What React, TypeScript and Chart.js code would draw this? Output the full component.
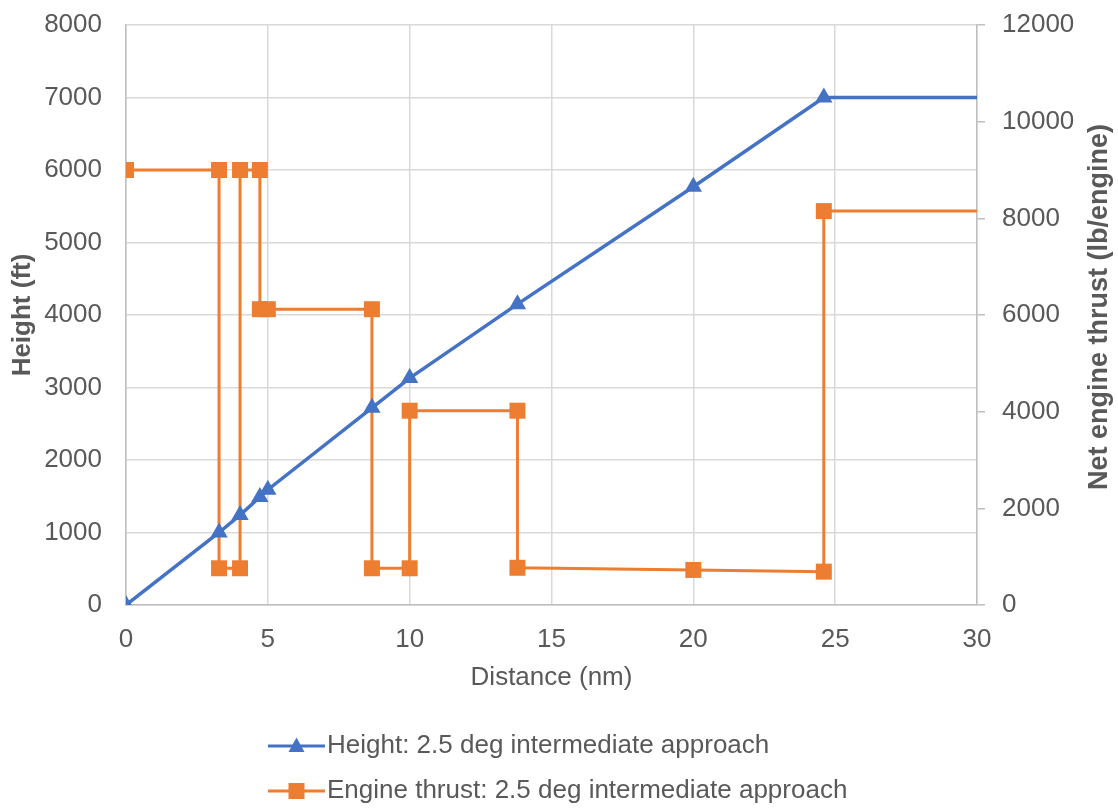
import React, { useEffect, useRef } from 'react';
import { Chart, registerables } from 'chart.js';

Chart.register(...registerables);

// ---- Data ----
const heightDistance = [0, 3.28, 4.02, 4.72, 5.0, 8.67, 10.0, 13.8, 20.0, 24.6, 30];
const heightFt = [0, 1000, 1240, 1490, 1590, 2720, 3130, 4150, 5770, 7000, 7000];

const thrustDistance = [0, 3.28, 3.28, 4.02, 4.02, 4.72, 4.72, 5.0, 8.67, 8.67, 10, 10, 13.8, 13.8, 20, 24.6, 24.6, 30];
const thrustLb = [9000, 9000, 760, 760, 9000, 9000, 6120, 6120, 6120, 760, 760, 4020, 4020, 770, 725, 690, 8150, 8150];

const xTickValues = [0, 5, 10, 15, 20, 25, 30];
const xTickLabels = ['0', '5', '10', '15', '20', '25', '30'];
const leftTickValues = [0, 1000, 2000, 3000, 4000, 5000, 6000, 7000, 8000];
const leftTickLabels = ['0', '1000', '2000', '3000', '4000', '5000', '6000', '7000', '8000'];
const rightTickValues = [0, 2000, 4000, 6000, 8000, 10000, 12000];
const rightTickLabels = ['0', '2000', '4000', '6000', '8000', '10000', '12000'];

const seriesNames = ['Height: 2.5 deg intermediate approach', 'Engine thrust: 2.5 deg intermediate approach'];
const xTitle = 'Distance (nm)';
const leftTitle = 'Height (ft)';
const rightTitle = 'Net engine thrust (lb/engine)';

const BLUE = '#4472C4';
const ORANGE = '#ED7D31';
const TEXT = '#595959';
const FONT = '"Liberation Sans", Arial, sans-serif';

const W = 1118;
const H = 809;

const decorPlugin = {
  id: 'decor',
  afterDraw(chart: any) {
    const { ctx, chartArea } = chart;
    const midY = (chartArea.top + chartArea.bottom) / 2;
    const midX = (chartArea.left + chartArea.right) / 2;
    ctx.save();
    ctx.fillStyle = TEXT;
    ctx.textBaseline = 'middle';

    // X title
    ctx.font = `26px ${FONT}`;
    ctx.textAlign = 'center';
    ctx.fillText(xTitle, midX, 678);

    // Left title
    ctx.font = `bold 26px ${FONT}`;
    ctx.save();
    ctx.translate(22.5, midY);
    ctx.rotate(-Math.PI / 2);
    ctx.fillText(leftTitle, 0, 0);
    ctx.restore();

    // Right title
    ctx.font = `bold 27px ${FONT}`;
    ctx.save();
    ctx.translate(1100, midY - 8);
    ctx.rotate(-Math.PI / 2);
    ctx.fillText(rightTitle, 0, 0);
    ctx.restore();

    // Legend
    const rows = [746, 791];
    const colors = [BLUE, ORANGE];
    const lineX0 = 268;
    const lineX1 = 325;
    const mx = (lineX0 + lineX1) / 2;
    ctx.font = `26px ${FONT}`;
    ctx.textAlign = 'left';
    rows.forEach((y, i) => {
      ctx.strokeStyle = colors[i];
      ctx.lineWidth = 3;
      ctx.beginPath();
      ctx.moveTo(lineX0, y);
      ctx.lineTo(lineX1, y);
      ctx.stroke();
      ctx.fillStyle = colors[i];
      ctx.beginPath();
      if (i === 0) {
        ctx.moveTo(mx, y - 8.5);
        ctx.lineTo(mx + 8, y + 6);
        ctx.lineTo(mx - 8, y + 6);
        ctx.closePath();
      } else {
        ctx.rect(mx - 8, y - 8, 16, 16);
      }
      ctx.fill();
      ctx.fillStyle = TEXT;
      ctx.fillText(seriesNames[i], 327, y);
    });
    ctx.restore();
  },
};

export default function App() {
  const canvasRef = useRef<HTMLCanvasElement | null>(null);

  useEffect(() => {
    const canvas = canvasRef.current;
    if (!canvas) return;
    Chart.defaults.font.family = FONT;

    const heightData = heightDistance.map((x, i) => ({ x, y: heightFt[i] }));
    const thrustData = thrustDistance.map((x, i) => ({ x, y: thrustLb[i] }));
    const heightRadius = heightDistance.map((_, i) => (i === heightDistance.length - 1 ? 0 : 10));
    const thrustRadius = thrustDistance.map((_, i) => (i === thrustDistance.length - 1 ? 0 : 11.3));

    const zeroVPad = (scale: any) => {
      scale.paddingTop = 0;
      scale.paddingBottom = 0;
    };

    const chart = new Chart(canvas, {
      type: 'line',
      data: {
        datasets: [
          {
            label: seriesNames[0],
            data: heightData,
            yAxisID: 'yLeft',
            borderColor: BLUE,
            backgroundColor: BLUE,
            borderWidth: 3.5,
            pointStyle: 'triangle',
            pointRadius: heightRadius,
            pointBorderWidth: 0,
            pointBackgroundColor: BLUE,
            tension: 0,
            order: 1,
          },
          {
            label: seriesNames[1],
            data: thrustData,
            yAxisID: 'yRight',
            borderColor: ORANGE,
            backgroundColor: ORANGE,
            borderWidth: 3,
            pointStyle: 'rect',
            pointRadius: thrustRadius,
            pointBorderWidth: 0,
            pointBackgroundColor: ORANGE,
            tension: 0,
            order: 2,
          },
        ],
      },
      options: {
        responsive: false,
        animation: false,
        devicePixelRatio: 1,
        layout: { padding: { top: 25, left: 0, right: 0, bottom: 144 } },
        plugins: {
          legend: { display: false },
          tooltip: { enabled: false },
        },
        scales: {
          x: {
            type: 'linear',
            min: 0,
            max: 30,
            afterBuildTicks: (scale: any) => {
              scale.ticks = xTickValues.map((v) => ({ value: v }));
            },
            afterFit: (scale: any) => {
              scale.height = 60;
              scale.paddingLeft = 0;
              scale.paddingRight = 0;
            },
            ticks: {
              color: TEXT,
              font: { size: 26 },
              padding: 19,
              maxRotation: 0,
              autoSkip: false,
              callback: (_v: any, i: number) => xTickLabels[i],
            },
            grid: { color: '#d9d9d9', lineWidth: 1.5, drawTicks: false },
            border: { color: '#bfbfbf', width: 1.5 },
          },
          yLeft: {
            type: 'linear',
            position: 'left',
            min: 0,
            max: 8000,
            afterBuildTicks: (scale: any) => {
              scale.ticks = leftTickValues.map((v) => ({ value: v }));
            },
            afterFit: (scale: any) => {
              scale.width = 126;
              zeroVPad(scale);
            },
            ticks: {
              color: TEXT,
              font: { size: 26 },
              padding: 24,
              autoSkip: false,
              callback: (_v: any, i: number) => leftTickLabels[i],
            },
            grid: { color: '#d9d9d9', lineWidth: 1.5, drawTicks: false },
            border: { color: '#bfbfbf', width: 1.5 },
          },
          yRight: {
            type: 'linear',
            position: 'right',
            min: 0,
            max: 12000,
            afterBuildTicks: (scale: any) => {
              scale.ticks = rightTickValues.map((v) => ({ value: v }));
            },
            afterFit: (scale: any) => {
              scale.width = W - 977;
              zeroVPad(scale);
            },
            ticks: {
              color: TEXT,
              font: { size: 26 },
              padding: 17,
              autoSkip: false,
              callback: (_v: any, i: number) => rightTickLabels[i],
            },
            grid: { drawOnChartArea: false, drawTicks: true, tickLength: 8, color: '#bfbfbf', lineWidth: 1.5 },
            border: { color: '#bfbfbf', width: 1.5 },
          },
        },
      },
      plugins: [decorPlugin],
    } as any);

    return () => {
      chart.destroy();
    };
  }, []);

  return (
    <div style={{ position: 'fixed', left: 0, top: 0, width: W, height: H, background: '#ffffff' }}>
      <canvas ref={canvasRef} width={W} height={H} style={{ display: 'block' }} />
    </div>
  );
}
